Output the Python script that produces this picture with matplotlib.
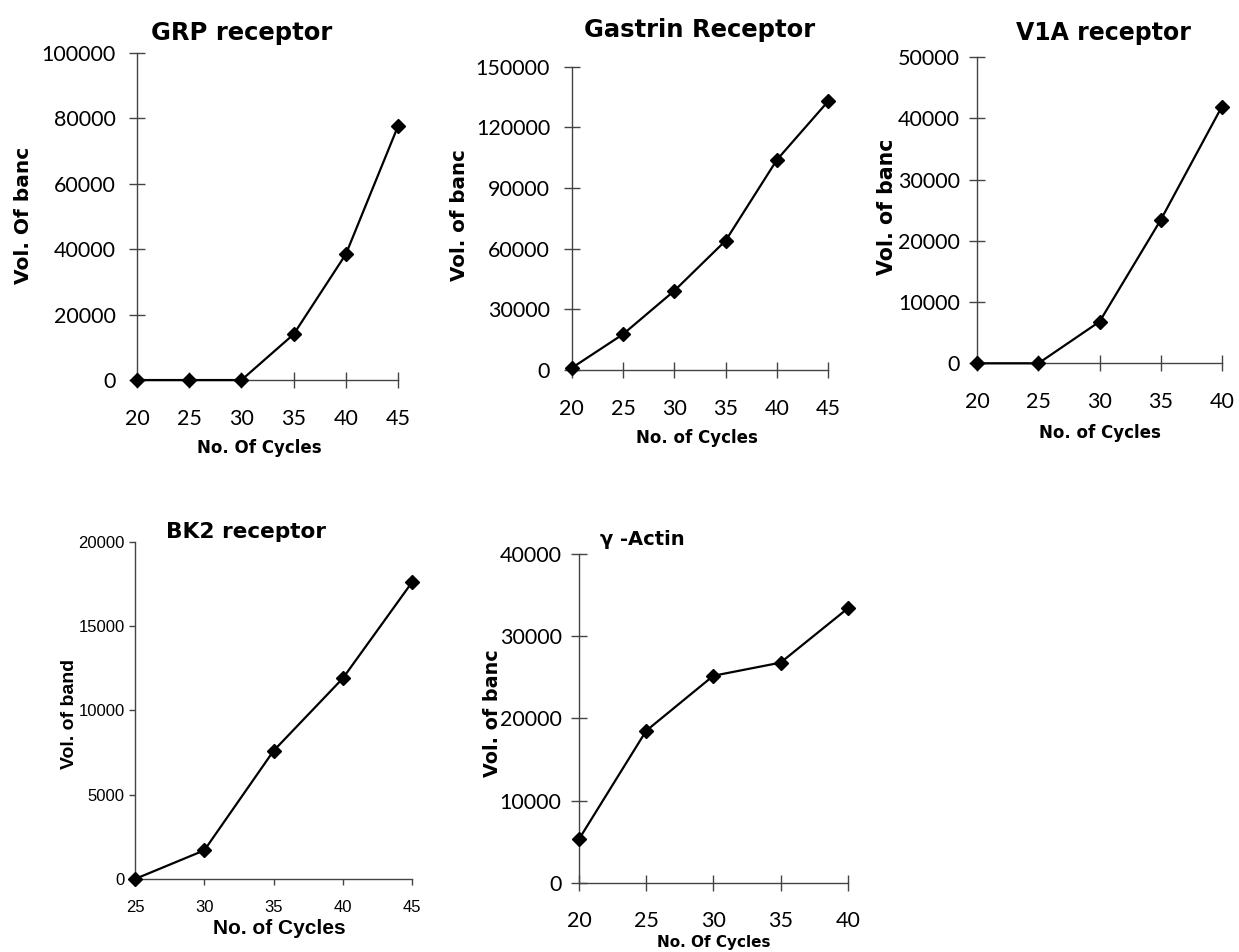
import matplotlib
matplotlib.use('Agg')
import matplotlib.pyplot as plt

plt.rcParams['font.family'] = ['Lato', 'DejaVu Sans']

# data
grp_x = [20, 25, 30, 35, 40, 45]
grp_y = [0, 0, 0, 14000, 38500, 77700]

gas_x = [20, 25, 30, 35, 40, 45]
gas_y = [1000, 17700, 39200, 64000, 104000, 133000]

v1a_x = [20, 25, 30, 35, 40]
v1a_y = [0, 0, 6800, 23400, 41900]

bk2_x = [25, 30, 35, 40, 45]
bk2_y = [0, 1700, 7600, 11900, 17600]

act_x = [20, 25, 30, 35, 40]
act_y = [5300, 18500, 25200, 26800, 33400]

fig = plt.figure(figsize=(12.39, 9.52), dpi=100)

WIDE = ['DejaVu Sans']


def panel(rect, x, y, ymax, ystep, title, title_xy, ylabel, ylab_xy, xlabel, xlab_xy,
          style='gothic', title_ha='center', tsize=17, xlsize=12, ylsize=14.5, ypad=8):
    ax = fig.add_axes(rect)
    ax.plot(x, y, color='black', lw=1.6, marker='D', ms=7, mfc='black', mec='black', clip_on=False, zorder=3)
    ax.set_xlim(x[0], x[-1])
    ax.set_ylim(0, ymax)
    ax.set_xticks(x)
    ax.set_yticks(range(0, ymax + 1, ystep))
    for s in ['top', 'right']:
        ax.spines[s].set_visible(False)
    for s in ['left', 'bottom']:
        ax.spines[s].set_color('#444444')
        ax.spines[s].set_linewidth(1.0)
    if style == 'gothic':
        ax.tick_params(direction='inout', length=11, width=1, color='#444444', labelsize=15.5)
        ax.tick_params(axis='x', pad=15)
        ax.tick_params(axis='y', pad=ypad)
        fam = WIDE
    else:
        ax.tick_params(direction='out', length=4, width=1, color='#444444', labelsize=12,
                       labelfontfamily='Liberation Sans')
        ax.tick_params(axis='x', pad=11)
        fam = ['Liberation Sans']
    ax.set_ylabel(ylabel, fontsize=ylsize, fontweight='bold', family=fam)
    ax.yaxis.set_label_coords(*ylab_xy)
    ax.set_xlabel(xlabel, fontsize=xlsize, fontweight='bold', family=fam)
    ax.xaxis.set_label_coords(*xlab_xy)
    ax.text(title_xy[0], title_xy[1], title, transform=ax.transAxes, ha=title_ha, va='center',
            fontsize=tsize, fontweight='bold', family=WIDE)
    return ax


panel([0.1106, 0.6008, 0.2107, 0.3435], grp_x, grp_y, 100000, 20000,
      'GRP receptor', (0.40, 1.061), 'Vol. Of banc', (-0.40, 0.505),
      'No. Of Cycles', (0.47, -0.18), tsize=17.5, ypad=10)

panel([0.4614, 0.6113, 0.2071, 0.3186], gas_x, gas_y, 150000, 30000,
      'Gastrin Receptor', (0.50, 1.12), 'Vol. of banc', (-0.40, 0.51),
      'No. of Cycles', (0.488, -0.195), tsize=17.5, ylsize=14.3, ypad=10)

panel([0.7888, 0.6184, 0.1973, 0.3215], v1a_x, v1a_y, 50000, 10000,
      'V1A receptor', (0.516, 1.078), 'Vol. of banc', (-0.33, 0.51),
      'No. of Cycles', (0.50, -0.198), ylsize=14.8, ypad=7)

panel([0.1090, 0.0767, 0.2236, 0.3543], bk2_x, bk2_y, 20000, 5000,
      'BK2 receptor', (0.40, 1.03), 'Vol. of band', (-0.205, 0.49),
      'No. of Cycles', (0.52, -0.12), style='arial', tsize=15.6, xlsize=15, ylsize=14)

panel([0.4673, 0.0728, 0.2169, 0.3450], act_x, act_y, 40000, 10000,
      'γ -Actin', (0.078, 1.044), 'Vol. of banc', (-0.288, 0.516),
      'No. Of Cycles', (0.50, -0.16), title_ha='left', tsize=14, xlsize=11, ylsize=13.8, ypad=7)

plt.savefig('out.png', dpi=100)
